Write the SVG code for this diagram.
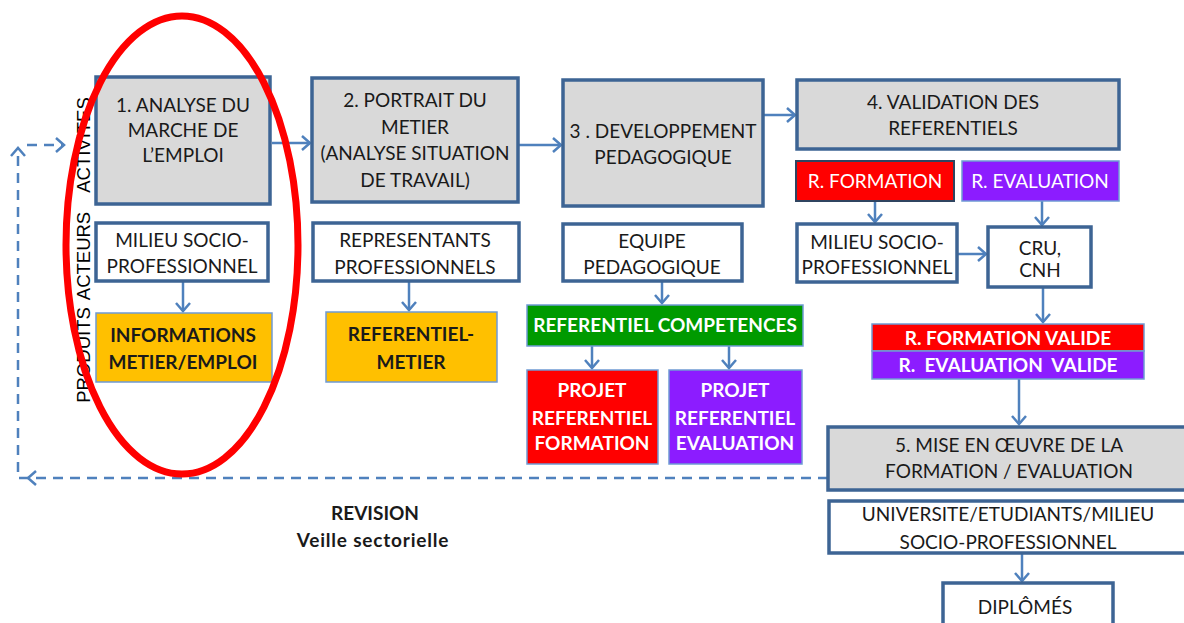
<svg xmlns="http://www.w3.org/2000/svg" width="1184" height="623" viewBox="0 0 1184 623">
<style>
text{font-family:Lato,"Liberation Sans",sans-serif;font-size:19px;fill:#1a1a1a;text-anchor:middle}
.b{font-weight:bold}
.w{fill:#fff}
.rot{font-family:"Liberation Sans",Arial,sans-serif;font-size:18.5px;fill:#000}
.act{fill:#d9d9d9;stroke:#3d6494;stroke-width:3.5}
.wb{fill:#fff;stroke:#3d6494;stroke-width:3.5}
.col{stroke:#6f9ad4;stroke-width:1.5}
.arr{fill:none;stroke:#4f81bd;stroke-width:2.5;marker-end:url(#ah)}
.dash{fill:none;stroke:#4f81bd;stroke-width:2.5;stroke-dasharray:10 7}
.head{fill:none;stroke:#4f81bd;stroke-width:2.5}
</style>
<defs>
<marker id="ah" markerUnits="userSpaceOnUse" markerWidth="20" markerHeight="20" viewBox="-10 -10 20 20" refX="0" refY="0" orient="auto">
<path d="M-8,-7 L0,0 L-8,7" fill="none" stroke="#4f81bd" stroke-width="2.5"/>
</marker>
</defs>

<g id="labels">
<text class="rot" transform="translate(89.5,355) rotate(-90)">PRODUITS</text>
<text class="rot" transform="translate(89.5,256) rotate(-90)">ACTEURS</text>
<text class="rot" transform="translate(89.5,145) rotate(-90)">ACTIVITES</text>
</g>

<g id="connectors">
<path class="arr" d="M272,143 L310,143"/>
<path class="arr" d="M518,145 L561,145"/>
<path class="arr" d="M763,115 L795,115"/>
<path class="arr" d="M183,281 L183,311"/>
<path class="arr" d="M409,281 L409,310"/>
<path class="arr" d="M662,281 L662,303"/>
<path class="arr" d="M592,346 L592,368"/>
<path class="arr" d="M729,346 L729,368"/>
<path class="arr" d="M875,201 L875,222"/>
<path class="arr" d="M1042,201 L1042,225"/>
<path class="arr" d="M957,254 L986,254"/>
<path class="arr" d="M1043,287 L1043,322"/>
<path class="arr" d="M1019,379 L1019,424"/>
<path class="arr" d="M1022,553 L1022,581"/>
<path class="dash" d="M828,478 L18,478 L18,150"/>
<path class="head" d="M36,471 L28,478 L36,485"/>
<path class="head" d="M11,156 L18,148 L25,156"/>
<path class="dash" d="M27,145 L62,145"/>
<path class="head" d="M56,138 L64,145 L56,152"/>
</g>

<g id="n1"><rect class="act" x="96" y="77" width="174" height="127"/>
<text x="183" y="112">1. ANALYSE DU</text><text x="183" y="137">MARCHE DE</text><text x="183" y="162">L’EMPLOI</text></g>
<g id="n1a"><rect class="wb" x="96" y="223" width="172" height="58"/>
<text x="182" y="247">MILIEU SOCIO-</text><text x="182" y="273">PROFESSIONNEL</text></g>
<g id="n1p"><rect class="col" fill="#ffc000" x="96" y="313" width="176" height="69"/>
<text class="b" x="183" y="342">INFORMATIONS</text><text class="b" x="183" y="369">METIER/EMPLOI</text></g>

<g id="n2"><rect class="act" x="312" y="78" width="206" height="124"/>
<text x="415" y="107">2. PORTRAIT DU</text><text x="415" y="134">METIER</text><text x="415" y="160">(ANALYSE SITUATION</text><text x="415" y="187">DE TRAVAIL)</text></g>
<g id="n2a"><rect class="wb" x="313" y="223" width="206" height="58"/>
<text x="415" y="247">REPRESENTANTS</text><text x="415" y="274">PROFESSIONNELS</text></g>
<g id="n2p"><rect class="col" fill="#ffc000" x="326" y="312" width="171" height="70"/>
<text class="b" x="411" y="341">REFERENTIEL-</text><text class="b" x="411" y="369">METIER</text></g>

<g id="n3"><rect class="act" x="563" y="80" width="200" height="126"/>
<text x="663" y="138">3 . DEVELOPPEMENT</text><text x="663" y="164">PEDAGOGIQUE</text></g>
<g id="n3a"><rect class="wb" x="563" y="224" width="179" height="57"/>
<text x="652" y="248">EQUIPE</text><text x="652" y="274">PEDAGOGIQUE</text></g>
<g id="n3p"><rect class="col" fill="#009a00" x="527" y="305" width="276" height="41"/>
<text class="b w" x="665" y="332">REFERENTIEL COMPETENCES</text></g>
<g id="n3f"><rect class="col" fill="#ff0000" x="527" y="370" width="131" height="94"/>
<text class="b w" x="592" y="397">PROJET</text><text class="b w" x="592" y="425">REFERENTIEL</text><text class="b w" x="592" y="450">FORMATION</text></g>
<g id="n3e"><rect class="col" fill="#8c1cff" x="669" y="370" width="133" height="94"/>
<text class="b w" x="735" y="397">PROJET</text><text class="b w" x="735" y="425">REFERENTIEL</text><text class="b w" x="735" y="450">EVALUATION</text></g>

<g id="n4"><rect class="act" x="797" y="80" width="322" height="69"/>
<text x="953" y="109">4. VALIDATION DES</text><text x="953" y="135">REFERENTIELS</text></g>
<g id="n4f"><rect fill="#ff0000" stroke="#2f4460" stroke-width="2" x="796" y="161" width="158" height="40"/>
<text class="w" x="875" y="188">R. FORMATION</text></g>
<g id="n4e"><rect class="col" fill="#8c1cff" x="962" y="161" width="157" height="40"/>
<text class="w" x="1040" y="188">R. EVALUATION</text></g>
<g id="n4a"><rect class="wb" x="797" y="224" width="160" height="58"/>
<text x="877" y="249">MILIEU SOCIO-</text><text x="877" y="274">PROFESSIONNEL</text></g>
<g id="n4b"><rect class="wb" x="988" y="227" width="103" height="60"/>
<text x="1040" y="255">CRU,</text><text x="1040" y="277">CNH</text></g>
<g id="n4v"><rect class="col" fill="#ff0000" x="872" y="324" width="272" height="27"/>
<text class="b w" x="1008" y="345">R. FORMATION VALIDE</text>
<rect class="col" fill="#8c1cff" x="872" y="351" width="272" height="28"/>
<text class="b w" x="1008" y="372" xml:space="preserve">R.  EVALUATION  VALIDE</text></g>

<g id="n5"><rect class="act" x="828" y="427" width="370" height="63"/>
<text x="1009" y="452">5. MISE EN ŒUVRE DE LA</text><text x="1009" y="478">FORMATION / EVALUATION</text></g>
<g id="n5a"><rect class="wb" x="829" y="501" width="370" height="52"/>
<text x="1008" y="521">UNIVERSITE/ETUDIANTS/MILIEU</text><text x="1008" y="549">SOCIO-PROFESSIONNEL</text></g>
<g id="n5p"><rect class="wb" x="943" y="583" width="170" height="60"/>
<text x="1025" y="614">DIPLÔMÉS</text></g>

<g id="revision"><text class="b" x="375" y="520">REVISION</text><text class="b" x="373" y="547" letter-spacing="0.8">Veille sectorielle</text></g>

<ellipse id="highlight" cx="182" cy="245" rx="116" ry="229" fill="none" stroke="#ff0000" stroke-width="7"/>
</svg>
